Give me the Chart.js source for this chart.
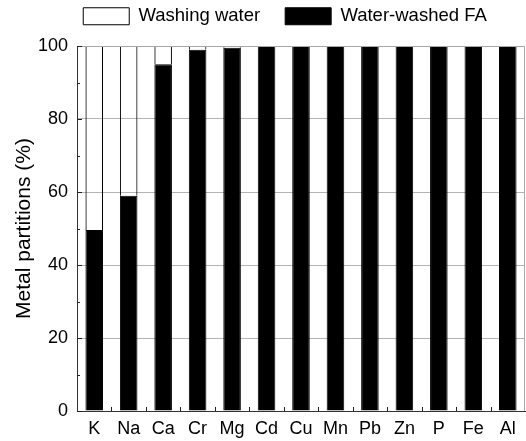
<!DOCTYPE html>
<html>
<head>
<meta charset="utf-8">
<script src="https://cdn.jsdelivr.net/npm/chart.js@4.4.0/dist/chart.umd.min.js"></script>
<style>
  html, body { margin: 0; padding: 0; background: #fff; }
</style>
</head>
<body>
<canvas id="chart" width="526" height="441"></canvas>
<script>
// categories (metals) and the two stacked partitions, in %
const metals = ["K", "Na", "Ca", "Cr", "Mg", "Cd", "Cu", "Mn", "Pb", "Zn", "P", "Fe", "Al"];
const washedFA = [49.6, 59, 95, 99, 99.5, 100, 100, 100, 100, 100, 100, 100, 100];
const washingWater = [50.4, 41, 5, 1, 0.5, 0, 0, 0, 0, 0, 0, 0, 0];
const yLabels = [0, 20, 40, 60, 80, 100];

const FONT = "'Liberation Sans', Arial, Helvetica, sans-serif";

// inward ticks + top/right frame, like the original plot
const frameTicks = {
  id: "frameTicks",
  afterDatasetsDraw(chart) {
    const { ctx, chartArea: a, scales } = chart;
    const x = scales.x, y = scales.y;
    ctx.save();
    ctx.lineWidth = 1;
    ctx.strokeStyle = "#a8a8a8";
    ctx.beginPath();
    ctx.moveTo(a.left, a.top + 0.5);
    ctx.lineTo(a.right, a.top + 0.5);
    ctx.moveTo(a.right - 0.5, a.top);
    ctx.lineTo(a.right - 0.5, a.bottom);
    ctx.stroke();

    ctx.strokeStyle = "#222";
    ctx.beginPath();
    for (let v = 0; v <= 100; v += 10) {
      const py = Math.round(y.getPixelForValue(v)) + 0.5;
      const len = yLabels.includes(v) ? 5 : 3;
      ctx.moveTo(a.left, py);
      ctx.lineTo(a.left + len, py);
    }
    for (let i = 1; i < metals.length; i++) {
      const px = Math.round((x.getPixelForTick(i - 1) + x.getPixelForTick(i)) / 2) + 0.5;
      ctx.moveTo(px, a.bottom);
      ctx.lineTo(px, a.bottom - 4);
    }
    ctx.stroke();
    ctx.restore();
  }
};

// fixed legend band height and position
const legendPlace = {
  id: "legendPlace",
  afterInit(chart) {
    const lg = chart.legend;
    const fit = lg.fit;
    lg.fit = function () {
      fit.call(this);
      this.height = 46;
    };
  },
  afterLayout(chart) {
    const lg = chart.legend;
    lg.left += 22.5;
    lg.right += 22.5;
    lg.top = -18;
  }
};

new Chart(document.getElementById("chart"), {
  type: "bar",
  data: {
    labels: metals,
    datasets: [
      {
        label: "Water-washed FA",
        data: washedFA,
        backgroundColor: "#000",
        borderColor: "#000",
        borderWidth: 1
      },
      {
        label: "Washing water",
        data: washingWater,
        backgroundColor: "rgba(255,255,255,0)",
        borderColor: "#000",
        borderWidth: 1
      }
    ]
  },
  options: {
    responsive: false,
    animation: false,
    layout: { padding: { left: 0, right: 1, top: 0, bottom: 0 } },
    datasets: { bar: { categoryPercentage: 1, barPercentage: 0.51 } },
    plugins: {
      tooltip: { enabled: false },
      legend: {
        reverse: true,
        labels: {
          boxWidth: 46,
          boxHeight: 17,
          padding: 25,
          color: "#000",
          font: { family: FONT, size: 18.5 }
        }
      }
    },
    scales: {
      x: {
        stacked: true,
        grid: { display: false, drawTicks: false },
        border: { color: "#333", width: 1 },
        ticks: { color: "#000", padding: 7, font: { family: FONT, size: 18 } },
        afterFit(s) { s.height = 30; }
      },
      y: {
        stacked: true,
        min: 0,
        max: 100,
        ticks: {
          stepSize: 10,
          color: "#000",
          padding: 9,
          font: { family: FONT, size: 18 },
          callback: (v) => (yLabels.includes(v) ? v : "")
        },
        grid: {
          drawTicks: false,
          color: (c) => (c.tick && c.tick.value % 20 === 0 && c.tick.value > 0 && c.tick.value < 100 ? "#b4b4b4" : "rgba(0,0,0,0)")
        },
        border: { color: "#333", width: 1 },
        title: {
          display: true,
          text: "Metal partitions (%)",
          color: "#000",
          font: { family: FONT, size: 21, weight: "normal" },
          padding: { top: 12, bottom: 0 }
        },
        afterFit(s) { s.width = 77; }
      }
    }
  },
  plugins: [frameTicks, legendPlace]
});
</script>
</body>
</html>
